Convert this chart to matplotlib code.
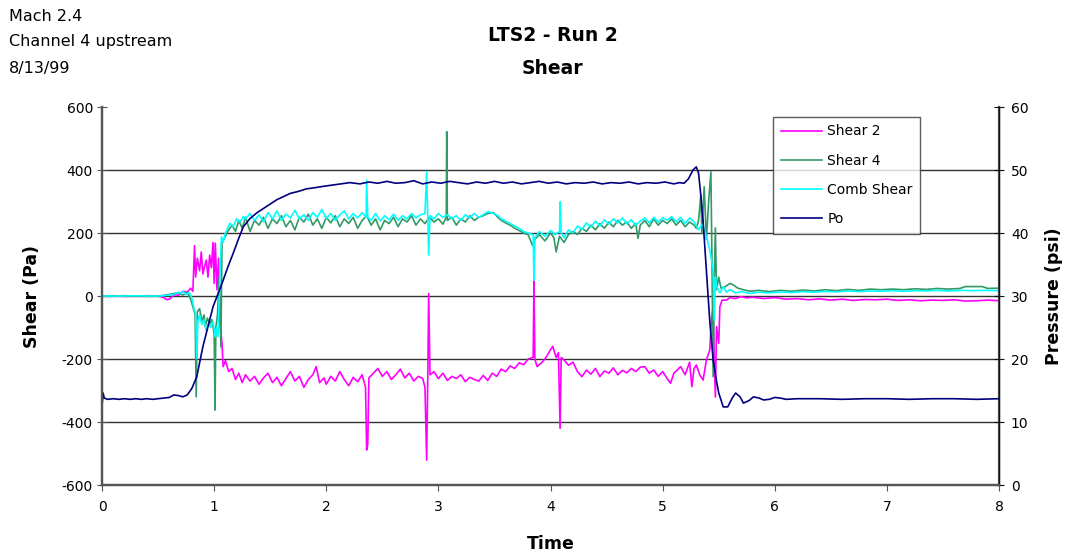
import numpy as np
import matplotlib
matplotlib.use("Agg")
import matplotlib.pyplot as plt

plt.rcParams['font.family'] = ['DejaVu Sans']
plt.rcParams['axes.unicode_minus'] = False

# (time, value) pairs
shear2_pts = [
    (0, 0), (0.1, 1), (0.2, -1), (0.3, 0), (0.4, 1), (0.5, 0), (0.55, -5), (0.58, -12), (0.61, -8),
    (0.64, 5), (0.68, 2), (0.72, 15), (0.76, 12), (0.79, 25), (0.81, 15), (0.825, 160), (0.835, 60),
    (0.85, 120), (0.87, 80), (0.885, 140), (0.9, 70), (0.915, 95), (0.93, 114), (0.945, 60), (0.96, 130),
    (0.975, 90), (0.99, 170), (1.0, 40), (1.01, 168), (1.025, 20), (1.04, 120), (1.05, -76), (1.07, -150),
    (1.08, -224), (1.1, -205), (1.13, -240), (1.16, -230), (1.19, -265), (1.22, -245), (1.25, -275),
    (1.28, -250), (1.32, -270), (1.36, -255), (1.40, -280), (1.44, -260), (1.48, -245), (1.52, -275),
    (1.56, -258), (1.60, -285), (1.64, -262), (1.68, -240), (1.72, -270), (1.76, -255), (1.80, -290),
    (1.84, -265), (1.88, -250), (1.91, -224), (1.94, -275), (1.98, -260), (2.00, -280), (2.04, -255),
    (2.08, -270), (2.12, -240), (2.16, -265), (2.20, -285), (2.24, -258), (2.28, -272), (2.32, -250),
    (2.35, -290), (2.36, -489), (2.37, -470), (2.38, -260), (2.42, -245), (2.46, -230), (2.50, -255),
    (2.54, -240), (2.58, -265), (2.62, -250), (2.66, -232), (2.70, -260), (2.74, -245), (2.78, -270),
    (2.82, -255), (2.86, -262), (2.88, -290), (2.895, -521), (2.905, -260), (2.913, 8), (2.925, -250),
    (2.96, -240), (3.0, -262), (3.04, -245), (3.08, -268), (3.12, -255), (3.16, -262), (3.20, -250),
    (3.24, -272), (3.28, -258), (3.32, -265), (3.36, -270), (3.40, -252), (3.44, -268), (3.48, -245),
    (3.52, -255), (3.56, -232), (3.60, -240), (3.64, -222), (3.68, -230), (3.72, -212), (3.76, -218),
    (3.80, -200), (3.845, -195), (3.852, 50), (3.86, -200), (3.88, -224), (3.92, -212), (3.96, -195),
    (4.00, -170), (4.02, -160), (4.05, -195), (4.07, -180), (4.085, -420), (4.095, -195), (4.12, -203),
    (4.16, -220), (4.20, -210), (4.24, -240), (4.28, -256), (4.32, -235), (4.36, -248), (4.40, -230),
    (4.44, -256), (4.48, -238), (4.52, -245), (4.56, -228), (4.60, -250), (4.64, -236), (4.68, -244),
    (4.72, -230), (4.76, -240), (4.80, -226), (4.84, -224), (4.88, -245), (4.92, -235), (4.96, -255),
    (5.00, -240), (5.04, -262), (5.07, -277), (5.10, -245), (5.13, -235), (5.16, -224), (5.20, -250),
    (5.24, -210), (5.26, -288), (5.28, -230), (5.30, -219), (5.33, -250), (5.36, -267), (5.39, -203),
    (5.42, -171), (5.435, -76), (5.45, -34), (5.46, -200), (5.47, -321), (5.48, -97), (5.50, -150),
    (5.51, -34), (5.53, -13), (5.57, -13), (5.60, -5), (5.65, -8), (5.70, -2), (5.75, -6), (5.80, -4),
    (5.9, -8), (6.0, -5), (6.1, -10), (6.2, -8), (6.3, -12), (6.4, -9), (6.5, -13), (6.6, -10),
    (6.7, -14), (6.8, -11), (6.9, -12), (7.0, -10), (7.1, -14), (7.2, -12), (7.3, -15), (7.4, -13),
    (7.5, -14), (7.6, -12), (7.7, -16), (7.8, -15), (7.9, -13), (8.0, -15),
]

shear4_pts = [
    (0, 0), (0.1, 0), (0.2, 1), (0.3, 0), (0.4, -1), (0.5, 0), (0.55, 2), (0.6, 5), (0.64, 8),
    (0.68, 10), (0.72, 3), (0.76, 12), (0.79, -10), (0.81, -34), (0.83, -60), (0.84, -320), (0.85, -50),
    (0.87, -40), (0.89, -80), (0.91, -60), (0.92, -97), (0.94, -70), (0.96, -90), (0.98, -75),
    (1.0, -120), (1.008, -362), (1.015, -100), (1.03, -60), (1.045, 60), (1.06, -161), (1.07, 170),
    (1.1, 190), (1.13, 210), (1.16, 225), (1.19, 205), (1.22, 240), (1.25, 215), (1.28, 250),
    (1.32, 205), (1.36, 240), (1.40, 225), (1.44, 250), (1.48, 215), (1.52, 245), (1.56, 230),
    (1.60, 255), (1.64, 220), (1.68, 240), (1.72, 210), (1.76, 250), (1.80, 235), (1.84, 260),
    (1.88, 225), (1.92, 245), (1.96, 215), (2.00, 250), (2.04, 232), (2.08, 255), (2.12, 220),
    (2.16, 245), (2.20, 230), (2.24, 250), (2.28, 215), (2.32, 240), (2.36, 255), (2.40, 225),
    (2.44, 245), (2.48, 210), (2.52, 240), (2.56, 230), (2.60, 250), (2.64, 220), (2.68, 245),
    (2.72, 235), (2.76, 255), (2.80, 225), (2.84, 245), (2.88, 230), (2.92, 250), (2.96, 235),
    (3.00, 245), (3.04, 228), (3.07, 250), (3.074, 522), (3.08, 240), (3.12, 250), (3.16, 225),
    (3.20, 245), (3.24, 235), (3.28, 255), (3.32, 240), (3.36, 250), (3.40, 255), (3.44, 262),
    (3.49, 265), (3.53, 250), (3.56, 240), (3.60, 232), (3.64, 225), (3.68, 215), (3.72, 208),
    (3.76, 200), (3.80, 195), (3.84, 160), (3.86, 180), (3.90, 195), (3.95, 175), (4.00, 200),
    (4.03, 185), (4.05, 140), (4.08, 190), (4.12, 170), (4.16, 195), (4.20, 205), (4.24, 195),
    (4.28, 215), (4.32, 205), (4.36, 225), (4.40, 210), (4.44, 230), (4.48, 215), (4.52, 235),
    (4.56, 220), (4.60, 240), (4.64, 225), (4.68, 235), (4.72, 215), (4.76, 230), (4.78, 183),
    (4.80, 225), (4.84, 240), (4.88, 220), (4.92, 245), (4.96, 225), (5.00, 240), (5.04, 230),
    (5.08, 245), (5.12, 225), (5.16, 240), (5.20, 220), (5.24, 235), (5.28, 225), (5.30, 215),
    (5.32, 240), (5.34, 320), (5.35, 200), (5.37, 347), (5.39, 180), (5.41, 300), (5.43, 394),
    (5.44, 100), (5.45, -256), (5.46, 50), (5.47, 216), (5.48, 20), (5.50, 60), (5.52, 25),
    (5.56, 30), (5.60, 40), (5.63, 35), (5.67, 25), (5.72, 20), (5.78, 15), (5.85, 18), (5.95, 14),
    (6.05, 18), (6.15, 15), (6.25, 19), (6.35, 16), (6.45, 20), (6.55, 17), (6.65, 21), (6.75, 18),
    (6.85, 22), (6.95, 20), (7.05, 22), (7.15, 20), (7.25, 23), (7.35, 21), (7.45, 24), (7.55, 22),
    (7.65, 24), (7.70, 30), (7.85, 30), (7.90, 24), (8.0, 25),
]

comb_pts = [
    (0, 0), (0.1, 0), (0.2, 0), (0.3, 1), (0.4, 0), (0.5, 0), (0.55, 1), (0.6, 3), (0.64, 5),
    (0.68, 12), (0.7, 8), (0.72, 15), (0.75, 5), (0.78, 10), (0.8, -5), (0.82, -40), (0.835, -60),
    (0.845, -197), (0.855, -80), (0.87, -60), (0.89, -90), (0.91, -75), (0.93, -110), (0.95, -85),
    (0.97, -100), (0.99, -80), (1.01, -130), (1.02, -100), (1.035, -129), (1.05, 50), (1.065, 188),
    (1.08, 170), (1.1, 200), (1.12, 215), (1.14, 231), (1.17, 220), (1.2, 245), (1.23, 235),
    (1.26, 252), (1.28, 245), (1.32, 262), (1.36, 240), (1.40, 258), (1.44, 235), (1.48, 265),
    (1.52, 245), (1.56, 270), (1.60, 240), (1.64, 260), (1.68, 248), (1.72, 272), (1.76, 245),
    (1.80, 258), (1.84, 240), (1.88, 265), (1.92, 250), (1.96, 275), (2.00, 245), (2.04, 262),
    (2.08, 240), (2.12, 258), (2.16, 270), (2.20, 245), (2.24, 262), (2.28, 248), (2.32, 265),
    (2.355, 250), (2.36, 368), (2.37, 250), (2.40, 240), (2.44, 262), (2.48, 238), (2.52, 255),
    (2.56, 242), (2.60, 260), (2.64, 240), (2.68, 255), (2.72, 245), (2.76, 262), (2.80, 248),
    (2.84, 258), (2.88, 262), (2.895, 395), (2.905, 255), (2.913, 130), (2.925, 255), (2.96, 245),
    (3.00, 262), (3.04, 250), (3.08, 258), (3.12, 245), (3.16, 255), (3.20, 240), (3.24, 258),
    (3.28, 248), (3.32, 262), (3.36, 250), (3.40, 258), (3.44, 268), (3.49, 262), (3.53, 255),
    (3.56, 245), (3.60, 238), (3.64, 230), (3.68, 222), (3.72, 215), (3.76, 205), (3.80, 200),
    (3.845, 195), (3.852, 50), (3.86, 185), (3.90, 205), (3.95, 190), (4.00, 208), (4.04, 195),
    (4.08, 205), (4.086, 299), (4.095, 200), (4.12, 185), (4.16, 210), (4.20, 200), (4.24, 222),
    (4.28, 212), (4.32, 232), (4.36, 218), (4.40, 238), (4.44, 222), (4.48, 242), (4.52, 228),
    (4.56, 245), (4.60, 232), (4.64, 248), (4.68, 230), (4.72, 242), (4.76, 225), (4.80, 238),
    (4.84, 248), (4.88, 232), (4.92, 250), (4.96, 235), (5.00, 248), (5.04, 241), (5.08, 252),
    (5.12, 235), (5.16, 250), (5.20, 230), (5.24, 248), (5.28, 235), (5.32, 210), (5.35, 228),
    (5.37, 210), (5.40, 175), (5.42, 146), (5.45, 83), (5.46, -76), (5.47, 60), (5.48, 30),
    (5.51, 10), (5.54, 30), (5.57, 12), (5.60, 20), (5.65, 10), (5.70, 14), (5.78, 8), (5.85, 12),
    (5.95, 10), (6.05, 13), (6.15, 11), (6.25, 14), (6.35, 12), (6.45, 15), (6.55, 13), (6.65, 16),
    (6.75, 14), (6.85, 16), (6.95, 15), (7.05, 17), (7.15, 15), (7.25, 17), (7.35, 16), (7.45, 18),
    (7.55, 16), (7.65, 18), (7.75, 17), (7.85, 18), (8.0, 17),
]

po_pts = [
    (0, 12.6), (0.01, 14.6), (0.02, 13.8), (0.05, 13.6), (0.1, 13.7), (0.15, 13.6), (0.2, 13.7),
    (0.25, 13.6), (0.3, 13.7), (0.35, 13.6), (0.4, 13.7), (0.45, 13.6), (0.5, 13.7), (0.55, 13.8),
    (0.6, 13.9), (0.64, 14.3), (0.68, 14.2), (0.72, 14.0), (0.76, 14.3), (0.8, 15.3), (0.845, 17.2),
    (0.9, 22.0), (0.95, 25.5), (0.99, 28.3), (1.04, 30.6), (1.08, 32.5), (1.12, 34.5), (1.17, 36.8),
    (1.22, 39.2), (1.26, 41.0), (1.32, 42.3), (1.38, 43.2), (1.44, 43.9), (1.5, 44.6), (1.56, 45.3),
    (1.62, 45.8), (1.68, 46.3), (1.75, 46.6), (1.82, 47.0), (1.9, 47.2), (1.97, 47.4), (2.05, 47.6),
    (2.13, 47.8), (2.21, 48.0), (2.3, 47.8), (2.38, 48.1), (2.46, 47.9), (2.54, 48.2), (2.62, 47.9),
    (2.70, 48.0), (2.78, 48.3), (2.86, 47.8), (2.94, 48.1), (3.02, 47.9), (3.10, 48.2), (3.18, 48.0),
    (3.26, 47.8), (3.34, 48.1), (3.42, 47.9), (3.50, 48.2), (3.58, 47.9), (3.66, 48.1), (3.74, 47.8),
    (3.82, 48.0), (3.90, 48.2), (3.98, 47.9), (4.06, 48.1), (4.14, 47.8), (4.22, 48.0), (4.30, 47.9),
    (4.38, 48.1), (4.46, 47.8), (4.54, 48.0), (4.62, 47.9), (4.70, 48.1), (4.78, 47.8), (4.86, 48.0),
    (4.94, 47.9), (5.02, 48.1), (5.10, 47.8), (5.15, 48.0), (5.19, 47.9), (5.23, 48.6), (5.27, 50.0),
    (5.30, 50.5), (5.32, 49.5), (5.34, 46.0), (5.36, 42.0), (5.39, 34.0), (5.42, 26.0), (5.45, 19.8),
    (5.48, 16.5), (5.50, 14.6), (5.54, 12.4), (5.58, 12.4), (5.62, 13.8), (5.65, 14.6), (5.69, 14.0),
    (5.72, 13.0), (5.77, 13.4), (5.81, 14.0), (5.86, 13.8), (5.90, 13.5), (5.95, 13.6), (6.0, 13.9),
    (6.05, 13.8), (6.1, 13.6), (6.2, 13.7), (6.4, 13.7), (6.6, 13.6), (6.8, 13.7), (7.0, 13.7),
    (7.2, 13.6), (7.4, 13.7), (7.6, 13.7), (7.8, 13.6), (8.0, 13.7),
]

fig = plt.figure(figsize=(10.65, 5.58), dpi=100)
ax = fig.add_axes([0.0958, 0.1308, 0.8423, 0.6774])
ax2 = ax.twinx()

series = [
    (shear2_pts, '#FF00FF', 'Shear 2'),
    (shear4_pts, '#339966', 'Shear 4'),
    (comb_pts, '#00FFFF', 'Comb Shear'),
]
handles = []
for pts, col, name in series:
    t, v = zip(*pts)
    h, = ax.plot(t, v, color=col, lw=1.2, label=name)
    handles.append(h)

t, v = zip(*po_pts)
h, = ax2.plot(t, v, color='#000080', lw=1.2, label='Po')
handles.append(h)

ax.set_xlim(0, 8)
ax.set_ylim(-600, 600)
ax2.set_ylim(0, 60)
ax.set_xticks(range(0, 9))
ax.set_yticks(range(-600, 601, 200))
ax2.set_yticks(range(0, 61, 10))

for y in range(-400, 401, 200):
    ax.axhline(y, color='#333333', lw=1.0, zorder=0)

for a in (ax, ax2):
    for s in a.spines.values():
        s.set_color('#555555')
        s.set_linewidth(1.6)
    a.spines['top'].set_visible(False)
ax2.spines['right'].set_color('#111111')
ax2.spines['right'].set_linewidth(1.0)

ax.tick_params(axis='y', labelsize=10, length=7, direction='inout', color='#555555', pad=3)
ax.tick_params(axis='x', labelsize=10, length=4, direction='out', color='#555555', pad=7)
ax2.tick_params(axis='y', labelsize=10, length=7, direction='inout', color='#111111', pad=5)

ax.set_ylabel('Shear (Pa)', fontsize=12.5, fontweight='bold', labelpad=15)
ax2.set_ylabel('Pressure (psi)', fontsize=12.5, fontweight='bold', labelpad=12)
ax.set_xlabel('Time', fontsize=12.5, fontweight='bold', labelpad=15)

fig.text(0.519, 0.937, 'LTS2 - Run 2', ha='center', va='center', fontsize=13.5, fontweight='bold')
fig.text(0.519, 0.878, 'Shear', ha='center', va='center', fontsize=13.5, fontweight='bold')

fig.text(0.008, 0.97, 'Mach 2.4', ha='left', va='center', fontsize=11.5)
fig.text(0.008, 0.925, 'Channel 4 upstream', ha='left', va='center', fontsize=11.5)
fig.text(0.008, 0.878, '8/13/99', ha='left', va='center', fontsize=11.5)

leg = ax2.legend(handles=handles, loc='upper left', bbox_to_anchor=(0.748, 0.974),
                 borderaxespad=0, fontsize=10, frameon=True, fancybox=False, borderpad=0.55,
                 labelspacing=1.1, handlelength=3.0, handletextpad=0.35)
leg.get_frame().set_edgecolor('#333333')
leg.get_frame().set_linewidth(1.0)

fig.savefig('out.png', dpi=100)
